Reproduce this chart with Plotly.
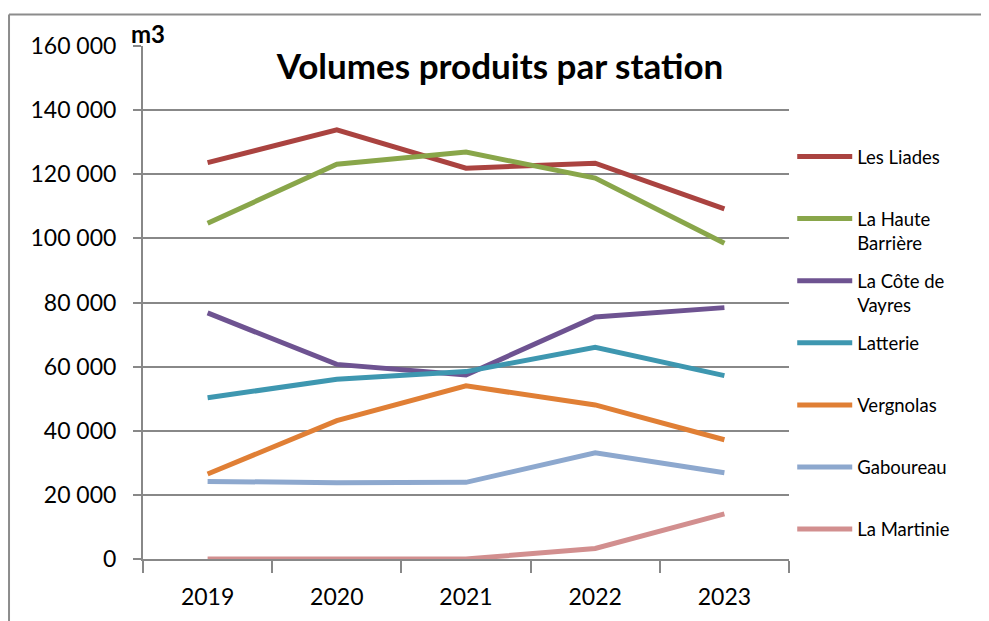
import plotly.graph_objects as go

years = ["2019", "2020", "2021", "2022", "2023"]

stations = ["Les Liades", "La Haute<br>Barrière", "La Côte de<br>Vayres", "Latterie",
            "Vergnolas", "Gaboureau", "La Martinie"]

les_liades = [123650, 133850, 121900, 123450, 109200]
haute_barriere = [104700, 123150, 126900, 118800, 98500]
cote_vayres = [76750, 60700, 57400, 75500, 78400]
latterie = [50300, 56050, 58450, 66050, 57200]
vergnolas = [26500, 43150, 54000, 48050, 37200]
gaboureau = [24200, 23800, 23900, 33150, 26900]
martinie = [0, 0, 0, 3300, 14050]

series = [les_liades, haute_barriere, cote_vayres, latterie, vergnolas, gaboureau, martinie]
colors = ["#AA4340", "#89A64A", "#6E5391", "#3E97B0", "#E07F35", "#8DA8CE", "#D28F8F"]

grid = "#888888"

fig = go.Figure()
for i, (name, vals, col) in enumerate(zip(stations, series, colors)):
    # pad single-line names so every legend entry has the same height
    label = name if "<br>" in name else name + "<br> "
    fig.add_trace(go.Scatter(
        x=years, y=vals, name=label, mode="lines",
        line=dict(color=col, width=5),
        legendgroup=str(i)
    ))

# outer chart border (only top and left are inside the picture)
fig.add_shape(type="line", xref="paper", yref="paper", x0=-0.2074, x1=1.5, y0=1.0614, y1=1.0614,
              line=dict(color="#8C8C8C", width=2))
fig.add_shape(type="line", xref="paper", yref="paper", x0=-0.2074, x1=-0.2074, y0=1.0614, y1=-0.3,
              line=dict(color="#8C8C8C", width=2))

fig.add_annotation(text="<b>m3</b>", xref="paper", yref="paper", x=-0.021, y=1.024,
                   xanchor="left", yanchor="middle", showarrow=False,
                   font=dict(size=24, color="black"))

fig.update_layout(
    width=989, height=621,
    margin=dict(l=135, r=208, t=38, b=70),
    paper_bgcolor="white", plot_bgcolor="white",
    font=dict(family="Lato", color="black"),
    separators=", ",
    title=dict(text="<b>Volumes produits par station</b>", x=0.4975, y=0.905,
               xanchor="center", yanchor="middle", font=dict(size=35, color="black")),
    legend=dict(x=1.005, y=0.8207, xanchor="left", yanchor="top",
                font=dict(size=18.5), tracegroupgap=11, valign="top", itemwidth=55,
                bgcolor="rgba(0,0,0,0)"),
    showlegend=True,
)
fig.update_xaxes(type="category", range=[-0.5, 4.5], showgrid=False, showline=True,
                 linecolor=grid, linewidth=2,
                 ticks="outside", tickson="boundaries", ticklen=12, tickcolor=grid, tickwidth=2,
                 tickfont=dict(size=23), ticklabelstandoff=16)
fig.update_yaxes(range=[0, 160000], dtick=20000, tickformat=",d", showgrid=True,
                 gridcolor=grid, gridwidth=2, showline=True, linecolor=grid, linewidth=2,
                 ticks="outside", ticklen=8, tickcolor=grid, tickwidth=2,
                 tickfont=dict(size=23), ticklabelstandoff=12, zeroline=False)

fig.write_html("out.html")
